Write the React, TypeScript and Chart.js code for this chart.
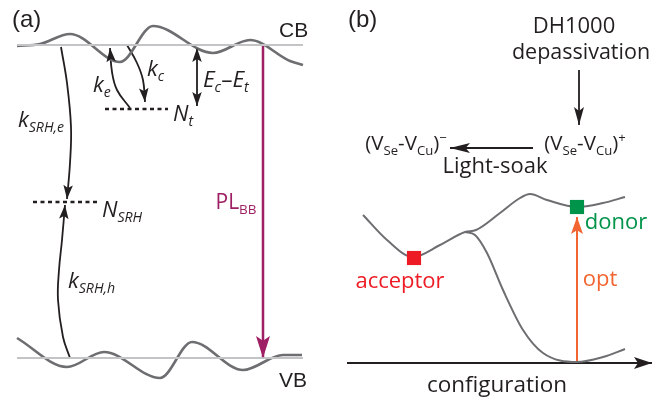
import React, { useEffect, useRef } from 'react';
import { Chart, registerables } from 'chart.js';

Chart.register(...registerables);

// ---------- panel (a): band edges ----------
const cbLevelX = [17, 303];
const cbLevelY = [45, 45];
const vbLevelX = [17, 303];
const vbLevelY = [358, 358];
const cbWaveX = [17, 40, 70, 120, 153, 213, 250, 290, 303];
const cbWaveY = [46, 44, 34, 62, 26, 53, 40, 61, 65];
const vbWaveX = [17, 67, 104, 160, 192, 243, 283, 302];
const vbWaveY = [338, 367, 352, 378, 342, 370, 355, 355];

// ---------- panel (a): trap levels ----------
const ntTrapX = [105, 168];
const ntTrapY = [109, 109];
const nsrhTrapX = [33, 97];
const nsrhTrapY = [202, 202];

// ---------- panel (a): transitions ----------
const kSrhEX = [61, 67, 71, 70, 67];
const kSrhEY = [47, 83, 127, 163, 199];
const kSrhHX = [70, 63, 58, 59, 62, 65];
const kSrhHY = [358, 337, 300, 270, 240, 205];
const keX = [130, 117, 112, 110];
const keY = [108, 90, 72, 48];
const kcX = [127, 137, 143, 145];
const kcY = [45, 63, 80, 102];
const ecEtX = [197, 197];
const ecEtY = [48, 106];
const plBBX = [263, 263];
const plBBY = [45, 358];

// ---------- panel (b): configuration coordinate diagram ----------
const upperCurveX = [363, 387, 413, 440, 465, 476, 500, 520, 530, 547, 577, 603, 625];
const upperCurveY = [215, 240, 257, 245, 232, 230, 213, 198, 194, 200, 207, 203, 197];
const lowerCurveX = [465, 475, 487, 503, 523, 543, 577, 603, 625];
const lowerCurveY = [232, 235, 253, 290, 330, 353, 362, 357, 349];
const acceptorX = [414];
const acceptorY = [258];
const donorX = [577];
const donorY = [207];
const optX = [577, 577];
const optY = [361, 217];
const depassX = [579, 579];
const depassY = [70, 125];
const lightSoakX = [533, 450];
const lightSoakY = [148, 148];
const configAxisX = [347, 652];
const configAxisY = [363, 363];

// ---------- colours ----------
const INK = '#231f20';
const WAVE = '#6d6e71';
const LEVEL = '#c3c4c6';
const PURPLE = '#9e1f63';
const ORANGE = '#f26531';
const RED = '#ed1c24';
const GREEN = '#00934a';

const MYRIAD = '"Open Sans", "Noto Sans", sans-serif';
const HELV = '"Liberation Sans", Arial, sans-serif';

type Seg = { t: string; it?: boolean; sub?: boolean; sup?: boolean };
type Lbl = {
  segs: Seg[];
  x: number;
  y: number;
  size: number;
  color: string;
  family: string;
  align: 'left' | 'center';
};

const labels: Lbl[] = [
  { segs: [{ t: '(a)' }], x: 12, y: 27, size: 24, color: INK, family: HELV, align: 'left' },
  { segs: [{ t: '(b)' }], x: 348, y: 27, size: 24, color: INK, family: HELV, align: 'left' },
  { segs: [{ t: 'CB' }], x: 279, y: 37, size: 21, color: INK, family: HELV, align: 'left' },
  { segs: [{ t: 'VB' }], x: 279, y: 387, size: 21, color: INK, family: HELV, align: 'left' },
  { segs: [{ t: 'k', it: true }, { t: 'SRH,e', it: true, sub: true }], x: 18, y: 127, size: 22, color: INK, family: MYRIAD, align: 'left' },
  { segs: [{ t: 'k', it: true }, { t: 'SRH,h', it: true, sub: true }], x: 68, y: 288, size: 22, color: INK, family: MYRIAD, align: 'left' },
  { segs: [{ t: 'k', it: true }, { t: 'e', it: true, sub: true }], x: 93, y: 92, size: 22, color: INK, family: MYRIAD, align: 'left' },
  { segs: [{ t: 'k', it: true }, { t: 'c', it: true, sub: true }], x: 147, y: 76, size: 22, color: INK, family: MYRIAD, align: 'left' },
  { segs: [{ t: 'E', it: true }, { t: 'c', it: true, sub: true }, { t: '–' }, { t: 'E', it: true }, { t: 't', it: true, sub: true }], x: 203, y: 87, size: 22.5, color: INK, family: MYRIAD, align: 'left' },
  { segs: [{ t: 'N', it: true }, { t: 't', it: true, sub: true }], x: 173, y: 121, size: 22, color: INK, family: MYRIAD, align: 'left' },
  { segs: [{ t: 'N', it: true }, { t: 'SRH', it: true, sub: true }], x: 102, y: 217, size: 22, color: INK, family: MYRIAD, align: 'left' },
  { segs: [{ t: 'PL' }, { t: 'BB', sub: true }], x: 236, y: 209, size: 21, color: PURPLE, family: MYRIAD, align: 'center' },
  { segs: [{ t: 'DH1000' }], x: 574, y: 33, size: 22, color: INK, family: MYRIAD, align: 'center' },
  { segs: [{ t: 'depassivation' }], x: 581, y: 59, size: 21.5, color: INK, family: MYRIAD, align: 'center' },
  { segs: [{ t: '(V' }, { t: 'Se', sub: true }, { t: '-V' }, { t: 'Cu', sub: true }, { t: ')' }, { t: '+', sup: true }], x: 585, y: 150, size: 20.5, color: INK, family: MYRIAD, align: 'center' },
  { segs: [{ t: '(V' }, { t: 'Se', sub: true }, { t: '-V' }, { t: 'Cu', sub: true }, { t: ')' }, { t: '−', sup: true }], x: 406, y: 150, size: 20.5, color: INK, family: MYRIAD, align: 'center' },
  { segs: [{ t: 'Light-soak' }], x: 495, y: 173, size: 22, color: INK, family: MYRIAD, align: 'center' },
  { segs: [{ t: 'acceptor' }], x: 400, y: 288, size: 22, color: RED, family: MYRIAD, align: 'center' },
  { segs: [{ t: 'donor' }], x: 616, y: 229, size: 22, color: GREEN, family: MYRIAD, align: 'center' },
  { segs: [{ t: 'opt' }], x: 600, y: 286, size: 22, color: ORANGE, family: MYRIAD, align: 'center' },
  { segs: [{ t: 'configuration' }], x: 497, y: 392, size: 22.5, color: INK, family: MYRIAD, align: 'center' },
];

function pts(xs: number[], ys: number[]) {
  return xs.map((x, i) => ({ x, y: ys[i] }));
}

function line(xs: number[], ys: number[], color: string, width: number, extra: any = {}) {
  return {
    data: pts(xs, ys),
    showLine: true,
    borderColor: color,
    backgroundColor: color,
    borderWidth: width,
    pointRadius: 0,
    pointHoverRadius: 0,
    tension: 0,
    borderCapStyle: 'butt',
    ...extra,
  };
}

function square(xs: number[], ys: number[], color: string) {
  return {
    data: pts(xs, ys),
    showLine: false,
    pointStyle: 'rect',
    pointRadius: 10,
    pointBorderWidth: 0,
    borderWidth: 0,
    backgroundColor: color,
    borderColor: color,
    order: -1,
  };
}

function drawHead(ctx: CanvasRenderingContext2D, tip: any, from: any, L: number, W: number, color: string) {
  const a = Math.atan2(tip.y - from.y, tip.x - from.x);
  ctx.save();
  ctx.translate(tip.x, tip.y);
  ctx.rotate(a);
  ctx.beginPath();
  ctx.moveTo(0, 0);
  ctx.lineTo(-L, -W / 2);
  ctx.lineTo(-L * 0.78, 0);
  ctx.lineTo(-L, W / 2);
  ctx.closePath();
  ctx.fillStyle = color;
  ctx.fill();
  ctx.restore();
}

const arrowPlugin = {
  id: 'arrowheads',
  afterDatasetsDraw(chart: any) {
    const ctx = chart.ctx as CanvasRenderingContext2D;
    chart.data.datasets.forEach((ds: any, i: number) => {
      if (!ds.heads) return;
      const el = chart.getDatasetMeta(i).data;
      const n = el.length;
      const [L, W] = ds.heads.size;
      if (ds.heads.end) drawHead(ctx, el[n - 1], el[n - 2], L, W, ds.borderColor);
      if (ds.heads.start) drawHead(ctx, el[0], el[1], L, W, ds.borderColor);
    });
  },
};

const labelPlugin = {
  id: 'richLabels',
  afterDraw(chart: any) {
    const ctx = chart.ctx as CanvasRenderingContext2D;
    const sx = chart.scales.x;
    const sy = chart.scales.y;
    labels.forEach((lb) => {
      const fontFor = (s: Seg) =>
        `${s.it ? 'italic ' : ''}${s.sub || s.sup ? lb.size * 0.64 : lb.size}px ${lb.family}`;
      let total = 0;
      lb.segs.forEach((s) => {
        ctx.font = fontFor(s);
        total += ctx.measureText(s.t).width;
      });
      let x = sx.getPixelForValue(lb.x);
      const y = sy.getPixelForValue(lb.y);
      if (lb.align === 'center') x -= total / 2;
      ctx.save();
      ctx.fillStyle = lb.color;
      ctx.textBaseline = 'alphabetic';
      ctx.textAlign = 'left';
      lb.segs.forEach((s) => {
        ctx.font = fontFor(s);
        const dy = s.sub ? lb.size * 0.24 : s.sup ? -lb.size * 0.38 : 0;
        ctx.fillText(s.t, x, y + dy);
        x += ctx.measureText(s.t).width;
      });
      ctx.restore();
    });
  },
};

export default function App() {
  const ref = useRef<HTMLCanvasElement | null>(null);

  useEffect(() => {
    if (!ref.current) return;
    const wave = { cubicInterpolationMode: 'monotone', tension: 0.4 };
    const datasets: any[] = [
      square(acceptorX, acceptorY, RED),
      square(donorX, donorY, GREEN),
      line(cbLevelX, cbLevelY, LEVEL, 2),
      line(vbLevelX, vbLevelY, LEVEL, 2),
      line(cbWaveX, cbWaveY, WAVE, 2.6, wave),
      line(vbWaveX, vbWaveY, WAVE, 2.6, wave),
      line(ntTrapX, ntTrapY, INK, 2.5, { borderDash: [4, 3.5] }),
      line(nsrhTrapX, nsrhTrapY, INK, 2.5, { borderDash: [4, 3.5] }),
      line(kSrhEX, kSrhEY, INK, 1.8, { tension: 0.4, heads: { end: true, size: [14, 9.5] } }),
      line(kSrhHX, kSrhHY, INK, 1.8, { tension: 0.4, heads: { end: true, size: [14, 9.5] } }),
      line(keX, keY, INK, 1.8, { tension: 0.4, heads: { end: true, size: [14, 9.5] } }),
      line(kcX, kcY, INK, 1.8, { tension: 0.4, heads: { end: true, size: [14, 9.5] } }),
      line(ecEtX, ecEtY, INK, 1.8, { heads: { end: true, start: true, size: [14, 9.5] } }),
      line(plBBX, plBBY, PURPLE, 2.5, { heads: { end: true, size: [22, 14] } }),
      line(upperCurveX, upperCurveY, WAVE, 2, wave),
      line(lowerCurveX, lowerCurveY, WAVE, 2, wave),
      line(optX, optY, ORANGE, 2, { heads: { end: true, size: [17, 12] } }),
      line(depassX, depassY, INK, 1.8, { heads: { end: true, size: [18, 10] } }),
      line(lightSoakX, lightSoakY, INK, 1.8, { heads: { end: true, size: [20, 10] } }),
      line(configAxisX, configAxisY, INK, 2, { heads: { end: true, size: [18, 12] } }),
    ];
    const chart = new Chart(ref.current, {
      type: 'scatter',
      data: { datasets },
      options: {
        responsive: false,
        maintainAspectRatio: false,
        animation: false,
        events: [],
        layout: { padding: 0, autoPadding: false },
        plugins: { legend: { display: false }, tooltip: { enabled: false } },
        scales: {
          x: { type: 'linear', min: 0, max: 657, display: false },
          y: { type: 'linear', min: 0, max: 398, reverse: true, display: false },
        },
      },
      plugins: [arrowPlugin, labelPlugin],
    } as any);
    return () => chart.destroy();
  }, []);

  return (
    <div style={{ position: 'fixed', left: 0, top: 0, width: 657, height: 398, background: '#fff' }}>
      <canvas ref={ref} width={657} height={398} style={{ display: 'block' }} />
    </div>
  );
}
